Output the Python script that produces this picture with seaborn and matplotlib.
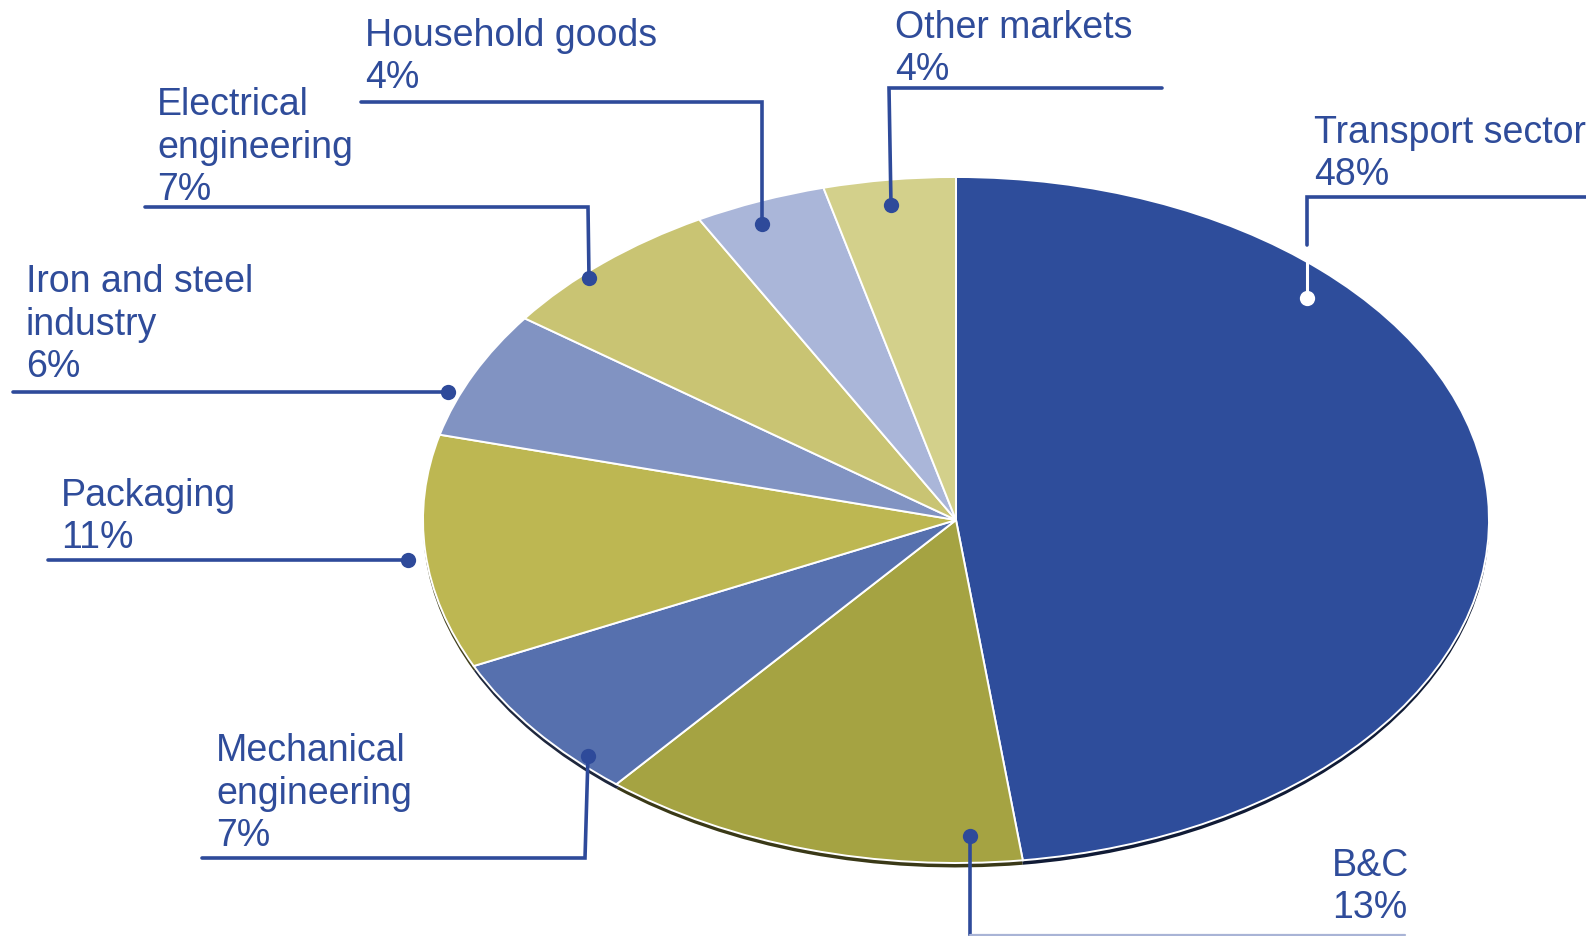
import matplotlib
matplotlib.use("Agg")
import matplotlib.pyplot as plt
import seaborn as sns
import numpy as np

sns.set_theme(style="white")
plt.rcParams['font.family'] = ['Liberation Sans', 'DejaVu Sans']

# ---- data ----
categories = ["Transport sector", "B&C", "Mechanical\nengineering", "Packaging",
              "Iron and steel\nindustry", "Electrical\nengineering", "Household goods", "Other markets"]
shares = [48, 13, 7, 11, 6, 7, 4, 4]
colors = ["#2E4D9B", "#A5A342", "#5670AE", "#BDB752", "#8193C2", "#C9C473", "#AAB6D9", "#D3D08B"]

W, H = 1586, 936
CX, CY, RX, RY = 956, 520, 533, 343
TXT = "#2F4C9A"
LINE = "#2E4A9A"

fig = plt.figure(figsize=(W / 100, H / 100), dpi=100)
fig.patch.set_facecolor("white")

# pie axes stretched into an ellipse
ax = fig.add_axes([(CX - RX) / W, (H - (CY + RY)) / H, 2 * RX / W, 2 * RY / H])
shadow_cols = [tuple(np.array(matplotlib.colors.to_rgb(c)) * 0.35) for c in colors]
sw, _ = ax.pie(shares, colors=shadow_cols, startangle=90, counterclock=False,
               center=(0, -0.013), wedgeprops=dict(linewidth=0))
wedges, _ = ax.pie(shares, colors=colors, startangle=90, counterclock=False,
                   wedgeprops=dict(edgecolor="white", linewidth=1.4))
for w in list(sw) + list(wedges):
    w.set_clip_on(False)
ax.set_xlim(-1, 1)
ax.set_ylim(-1, 1)
ax.set_aspect("auto")
ax.axis("off")

# overlay axes in pixel coordinates for labels / leaders
ov = fig.add_axes([0, 0, 1, 1])
ov.set_xlim(0, W)
ov.set_ylim(H, 0)
ov.axis("off")
ov.patch.set_alpha(0)

layout = [
    dict(tx=1314, ty=185, path=[(1307, 298), (1307, 197), (1586, 197)], white_to=245),
    dict(tx=1332, ty=918, path=[(970, 836), (970, 935)], tail=[(970, 935), (1405, 935)]),
    dict(tx=216, ty=846, path=[(588, 756), (585, 858), (202, 858)]),
    dict(tx=61, ty=548, path=[(408, 560), (48, 560)]),
    dict(tx=26, ty=377, path=[(448, 392), (13, 392)]),
    dict(tx=157, ty=200, path=[(589, 278), (588, 207), (145, 207)]),
    dict(tx=365, ty=88, path=[(762, 224), (762, 102), (361, 102)]),
    dict(tx=895, ty=80, path=[(891, 205), (889, 88), (1162, 88)]),
]

for cat, val, lay in zip(categories, shares, layout):
    ov.text(lay["tx"], lay["ty"], f"{cat}\n{val}%", color=TXT, fontsize=27,
            ha="left", va="baseline", linespacing=1.23)
    xs, ys = zip(*lay["path"])
    if "white_to" in lay:
        x0, y0 = lay["path"][0]
        ov.plot([x0, x0], [y0, lay["white_to"]], color="white", lw=2.2, solid_capstyle="butt")
        ov.plot([x0] + list(xs[1:]), [lay["white_to"]] + list(ys[1:]), color=LINE, lw=2.6,
                solid_joinstyle="miter")
        ov.plot([x0], [y0], "o", color="white", ms=11, mec="none")
    else:
        ov.plot(xs, ys, color=LINE, lw=2.6, solid_joinstyle="miter")
        ov.plot([xs[0]], [ys[0]], "o", color=LINE, ms=11, mec="none")
    if "tail" in lay:
        tx, ty = zip(*lay["tail"])
        ov.plot(tx, ty, color="#A9B4D6", lw=1.6)

fig.savefig("out.png", dpi=100, facecolor="white")
